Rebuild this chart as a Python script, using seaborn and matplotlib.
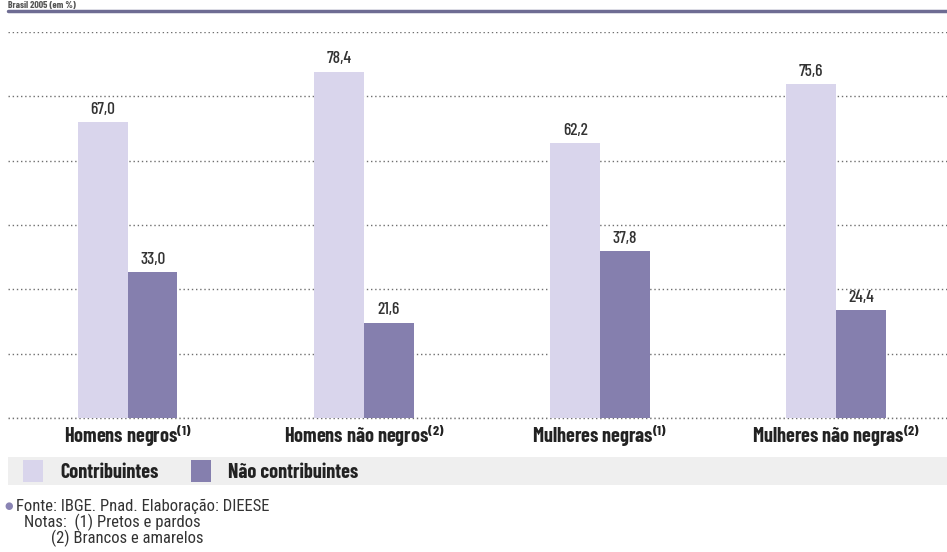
import matplotlib
matplotlib.use("Agg")
import matplotlib.pyplot as plt
import pandas as pd
import seaborn as sns
from matplotlib.patches import Rectangle, Patch
from matplotlib.lines import Line2D

grupos = [
    "Homens negros$^{(1)}$",
    "Homens não negros$^{(2)}$",
    "Mulheres negras$^{(1)}$",
    "Mulheres não negras$^{(2)}$",
]
contribuintes = [67.0, 78.4, 62.2, 75.6]
nao_contribuintes = [33.0, 21.6, 37.8, 24.4]
series = ["Contribuintes", "Não contribuintes"]
cores = ["#d9d5ec", "#857fae"]

df = pd.DataFrame({
    "grupo": grupos * 2,
    "valor": contribuintes + nao_contribuintes,
    "tipo": [series[0]] * 4 + [series[1]] * 4,
})

sns.set_style("white")
plt.rcParams["font.family"] = ["Barlow Condensed", "DejaVu Sans"]
plt.rcParams["mathtext.default"] = "regular"

fig = plt.figure(figsize=(9.47, 5.52), dpi=100)
ax = fig.add_axes([8 / 947, 1 - 418 / 552, 1 - 8 / 947, (418 - 32) / 552])

sns.barplot(
    data=df,
    x="grupo",
    y="valor",
    hue="tipo",
    palette=cores,
    width=0.42,
    gap=0,
    saturation=1,
    linewidth=0,
    legend=False,
    ax=ax,
    zorder=3,
)

ymax = 87.4
ax.set_ylim(0, ymax)
ax.set_xlim(-0.508, 3.47)
ax.set_yticks([ymax * i / 6 for i in range(7)])
ax.set_yticklabels([])
ax.tick_params(axis="y", length=0)
ax.tick_params(axis="x", length=0, pad=3)
ax.grid(axis="y", linestyle=(0, (1, 2)), color="#6f6f6f", linewidth=1, zorder=0)
ax.set_axisbelow(True)
ax.axhline(0, linestyle=(0, (1, 2)), color="#6f6f6f", linewidth=1, zorder=1, clip_on=False)
for s in ax.spines.values():
    s.set_visible(False)
ax.set_xlabel("")
ax.set_ylabel("")

for lbl in ax.get_xticklabels():
    lbl.set_fontsize(14.5)
    lbl.set_fontweight("bold")
    lbl.set_color("#222222")

for cont in ax.containers:
    ax.bar_label(
        cont,
        labels=[f"{v:.1f}".replace(".", ",") for v in cont.datavalues],
        padding=4,
        fontsize=12.5,
        fontweight="medium",
        color="#333333",
    )

# title and rule
fig.text(8 / 947, 1 - 1 / 552, "Brasil 2005 (em %)", fontsize=7,
         fontweight="bold", color="#555555", va="top")
fig.add_artist(Line2D([8 / 947, 1], [1 - 11 / 552] * 2, color="#6e6c93",
                      linewidth=2.5, transform=fig.transFigure))

# legend band
fig.add_artist(Rectangle((8 / 947, 1 - 485 / 552), 1 - 8 / 947, 28 / 552,
                         facecolor="#efefef", edgecolor="none",
                         transform=fig.transFigure, zorder=0))
handles = [Patch(facecolor=c, edgecolor="none", label=s) for c, s in zip(cores, series)]
leg = fig.legend(
    handles=handles,
    loc="center left",
    bbox_to_anchor=(23 / 947, 1 - 471 / 552),
    ncol=2,
    frameon=False,
    borderpad=0,
    borderaxespad=0,
    prop={"size": 14.5, "weight": "bold"},
    handlelength=1.0,
    handleheight=1.25,
    handletextpad=0.85,
    columnspacing=1.6,
)
for t in leg.get_texts():
    t.set_color("#222222")

# footer
fig.text(4 / 947, 1 - 506 / 552, "●", fontsize=7, color="#8a84b4",
         va="center", family="DejaVu Sans")
foot = dict(fontsize=12, color="#333333", va="center", family=["Roboto Condensed", "DejaVu Sans"])
fig.text(16 / 947, 1 - 506 / 552, "Fonte: IBGE. Pnad. Elaboração: DIEESE", **foot)
fig.text(24 / 947, 1 - 522 / 552, "Notas:  (1) Pretos e pardos", **foot)
fig.text(51 / 947, 1 - 538 / 552, "(2) Brancos e amarelos", **foot)

fig.savefig("out.png", dpi=100)
